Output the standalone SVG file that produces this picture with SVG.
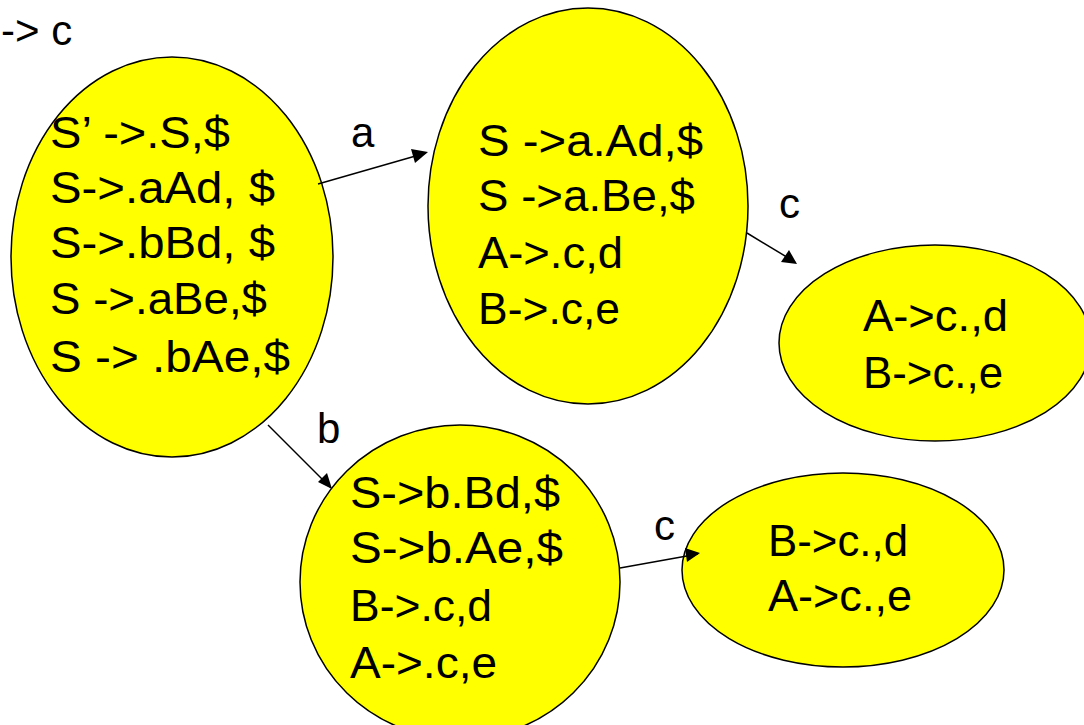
<svg xmlns="http://www.w3.org/2000/svg" width="1084" height="725" viewBox="0 0 1084 725">
<style>
.node{fill:#FFFF00;stroke:#000;stroke-width:1.5}
.t{font-family:"Liberation Sans",Arial,sans-serif;font-size:44px;fill:#000}
.lbl{font-family:"Liberation Sans",Arial,sans-serif;font-size:42px;fill:#000}
.edge{stroke:#000;stroke-width:1.5;fill:none}
.head{fill:#000}
</style>
<rect width="1084" height="725" fill="#fff"/>
<text class="lbl" x="1" y="45">-&gt; c</text>
<g id="n0">
<ellipse class="node" cx="172" cy="257" rx="161" ry="200"/>
<text class="t" x="50" y="148" textLength="180" lengthAdjust="spacingAndGlyphs">S’ -&gt;.S,$</text>
<text class="t" x="50" y="203" textLength="225" lengthAdjust="spacingAndGlyphs">S-&gt;.aAd, $</text>
<text class="t" x="50" y="258" textLength="225" lengthAdjust="spacingAndGlyphs">S-&gt;.bBd, $</text>
<text class="t" x="50" y="314" textLength="217" lengthAdjust="spacingAndGlyphs">S -&gt;.aBe,$</text>
<text class="t" x="50" y="372" textLength="240" lengthAdjust="spacingAndGlyphs">S -&gt; .bAe,$</text>
</g>
<g id="n1">
<ellipse class="node" cx="588" cy="206" rx="160" ry="198"/>
<text class="t" x="478" y="156" textLength="225" lengthAdjust="spacingAndGlyphs">S -&gt;a.Ad,$</text>
<text class="t" x="478" y="211" textLength="217" lengthAdjust="spacingAndGlyphs">S -&gt;a.Be,$</text>
<text class="t" x="478" y="268" textLength="145" lengthAdjust="spacingAndGlyphs">A-&gt;.c,d</text>
<text class="t" x="478" y="324" textLength="142" lengthAdjust="spacingAndGlyphs">B-&gt;.c,e</text>
</g>
<g id="n2">
<ellipse class="node" cx="935" cy="343" rx="156" ry="98"/>
<text class="t" x="863" y="331" textLength="145" lengthAdjust="spacingAndGlyphs">A-&gt;c.,d</text>
<text class="t" x="863" y="388" textLength="140" lengthAdjust="spacingAndGlyphs">B-&gt;c.,e</text>
</g>
<g id="n3">
<ellipse class="node" cx="460" cy="582" rx="160" ry="157"/>
<text class="t" x="350" y="508" textLength="210" lengthAdjust="spacingAndGlyphs">S-&gt;b.Bd,$</text>
<text class="t" x="350" y="563" textLength="213" lengthAdjust="spacingAndGlyphs">S-&gt;b.Ae,$</text>
<text class="t" x="350" y="621" textLength="142" lengthAdjust="spacingAndGlyphs">B-&gt;.c,d</text>
<text class="t" x="350" y="678" textLength="147" lengthAdjust="spacingAndGlyphs">A-&gt;.c,e</text>
</g>
<g id="n4">
<ellipse class="node" cx="843" cy="570" rx="161" ry="97"/>
<text class="t" x="768" y="556" textLength="140" lengthAdjust="spacingAndGlyphs">B-&gt;c.,d</text>
<text class="t" x="768" y="611" textLength="144" lengthAdjust="spacingAndGlyphs">A-&gt;c.,e</text>
</g>
<g id="connectors">
<line class="edge" x1="318" y1="184" x2="426" y2="153"/>
<path class="head" d="M428,152 L411,149 L415,163 z"/>
<line class="edge" x1="747" y1="233" x2="795" y2="262"/>
<path class="head" d="M797,264 L781,262 L789,250 z"/>
<line class="edge" x1="268" y1="425" x2="330" y2="487"/>
<path class="head" d="M332,489 L318,482 L327,473 z"/>
<line class="edge" x1="620" y1="568" x2="698" y2="554"/>
<path class="head" d="M700,553 L685,548 L687,562 z"/>
<text class="lbl" x="351" y="147">a</text>
<text class="lbl" x="779" y="218">c</text>
<text class="lbl" x="317" y="443">b</text>
<text class="lbl" x="654" y="540">c</text>
</g>
</svg>
